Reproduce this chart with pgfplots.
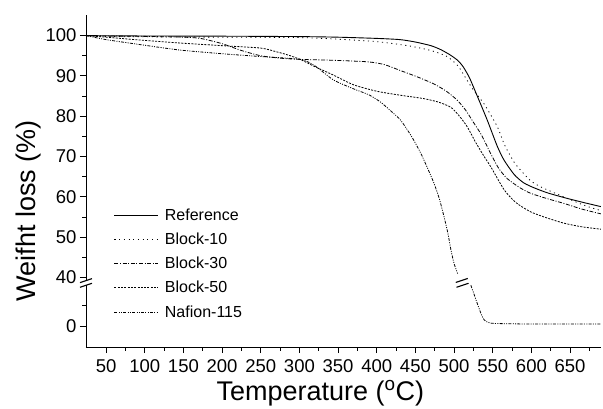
\documentclass[border=0pt]{standalone}
\usepackage{fontspec}
\setmainfont{Liberation Sans}
\usepackage{pgfplots}
\pgfplotsset{compat=1.18}

\begin{document}
\begin{tikzpicture}
\useasboundingbox (-86pt,-61pt) rectangle (517pt,347pt);
\begin{axis}[
    scale only axis,
    width=515pt, height=332pt,
    xmin=24, xmax=690, ymin=22.8, ymax=105.1,
    axis x line*=bottom, axis y line*=left,
    axis line style={-, line width=0.9pt},
    xtick={50,100,...,650}, minor xtick={75,125,...,675},
    ytick={28,40,50,60,70,80,90,100},
    yticklabels={0,40,50,60,70,80,90,100},
    minor ytick={33,45,55,65,75,85,95},
    tick align=outside, major tick length=6pt, minor tick length=3.5pt,
    tick style={line width=0.9pt, black},
    ticklabel style={font=\fontsize{18.5}{18.5}\selectfont},
    xticklabel style={yshift=-3pt},
    /pgf/number format/assume math mode=true,
    xlabel={Temperature (\textsuperscript{o}C)},
    ylabel={Weifht loss (\%)},
    label style={font=\fontsize{27}{27}\selectfont},
    xlabel style={at={(axis description cs:0.455,0)}, anchor=base, yshift=-53pt},
    ylabel style={at={(axis description cs:-0.0973,0.41)}, anchor=base},
    legend style={at={(axis cs:60,57.2)}, anchor=north west, draw=none, fill=none,
        inner sep=0pt, font=\fontsize{16}{16}\selectfont, row sep=11.2pt,
        column sep=6pt, nodes={inner sep=0pt}},
    legend cell align=left,
    legend image code/.code={\draw[#1] (0pt,0pt) -- (44pt,0pt);},
    every axis plot/.append style={black, line width=0.8pt},
]

% Reference
\addplot[solid, line width=0.9pt, smooth, tension=0.4] coordinates {
(24,100) (50,99.95) (100,99.9) (200,99.85) (300,99.75) (350,99.6) (400,99.3)
(430,99.0) (450,98.4) (470,97.5) (483,96.5) (495,95.2) (505,93.8) (512,92.2)
(520,89.5) (530,85) (543,79) (556,72.5) (565,69) (578,65.5) (590,63.5)
(603,62.3) (621,61) (647,59.6) (670,58.5) (690,57.6)
};
\addlegendentry{Reference}

% Block-10
\addplot[dash pattern=on 1.1pt off 3.6pt, smooth, tension=0.4] coordinates {
(24,100) (50,99.8) (100,99.7) (200,99.6) (300,99.5) (350,99.1) (400,98.5)
(440,97.5) (470,96.3) (491,94.8) (505,92.5) (515,89.5) (525,86.5) (539,83)
(556,77.4) (565,73) (578,68.5) (590,65.8) (599,64.0) (612,62.5) (642,60)
(670,57.8) (690,56.6)
};
\addlegendentry{Block-10}

% Block-30
\addplot[dash pattern=on 4pt off 1.6pt on 1pt off 1.6pt, smooth, tension=0.4] coordinates {
(24,100) (50,99.9) (100,99.8) (150,99.6) (172,99.3) (200,98) (225,96.3)
(250,95) (275,94.4) (301,94.1) (340,93.9) (388,93.5) (410,92.8) (431,91.3)
(452,89.8) (474,88) (490,86.2) (504,84) (515,81.5) (525,78.5) (535,75.5)
(548,70.5) (558,67) (569,64.5) (585,62.3) (599,60.9) (620,59.6) (642,58.4)
(665,57) (690,55.8)
};
\addlegendentry{Block-30}

% Block-50
\addplot[dash pattern=on 2pt off 1.3pt, smooth, tension=0.4] coordinates {
(24,100) (50,99.6) (100,98.8) (150,98.1) (200,97.5) (250,96.9) (270,96)
(285,95.2) (301,94.1) (320,92.3) (344,90.2) (370,87.8) (400,86.2) (431,85.2)
(460,84.4) (480,83.5) (496,82.2) (507,80) (517,77.4) (528,73.5) (539,70)
(548,67.3) (565,61.7) (580,58.6) (599,56.3) (620,54.8) (642,53.5) (665,52.6)
(690,52)
};
\addlegendentry{Block-50}

% Nafion-115 (above the break)
\addplot[dash pattern=on 3pt off 1.3pt on 1pt off 1.3pt on 1pt off 1.3pt, smooth, tension=0.4] coordinates {
(24,100) (50,99) (100,97.6) (146,96.4) (200,95.5) (250,94.8) (301,94.1)
(320,92.5) (344,89) (370,86.8) (390,85.3) (405,83.5) (420,81) (431,79)
(445,75) (457,70.8) (466,67) (474,63.4) (481,59.5) (487,55.1) (492,51)
(496,46.8) (500,43.5) (504.6,41)
};
\addlegendentry{Nafion-115}

% Nafion-115 (below the break, shifted by the axis break)
\addplot[forget plot, dash pattern=on 3pt off 1.3pt on 1pt off 1.3pt on 1pt off 1.3pt, smooth, tension=0.4] coordinates {
(521.7,38.1) (526,35.8) (530,33.6) (535,31) (539,29.5) (544,28.9) (548,28.7)
(560,28.6) (600,28.5) (690,28.5)
};

\coordinate (yb1) at (axis cs:24,39.25);
\coordinate (yb2) at (axis cs:24,38.1);
\coordinate (cb1) at (axis cs:510,39.3);
\coordinate (cb2) at (axis cs:511,38.1);
\end{axis}

\fill[white] ([xshift=-2pt]yb2) rectangle ([xshift=2pt]yb1);
\foreach \c in {yb1,yb2,cb1,cb2}
  \draw[line width=1.1pt] ([xshift=-6pt,yshift=-2pt]\c) -- ([xshift=6pt,yshift=2pt]\c);
\end{tikzpicture}
\end{document}
